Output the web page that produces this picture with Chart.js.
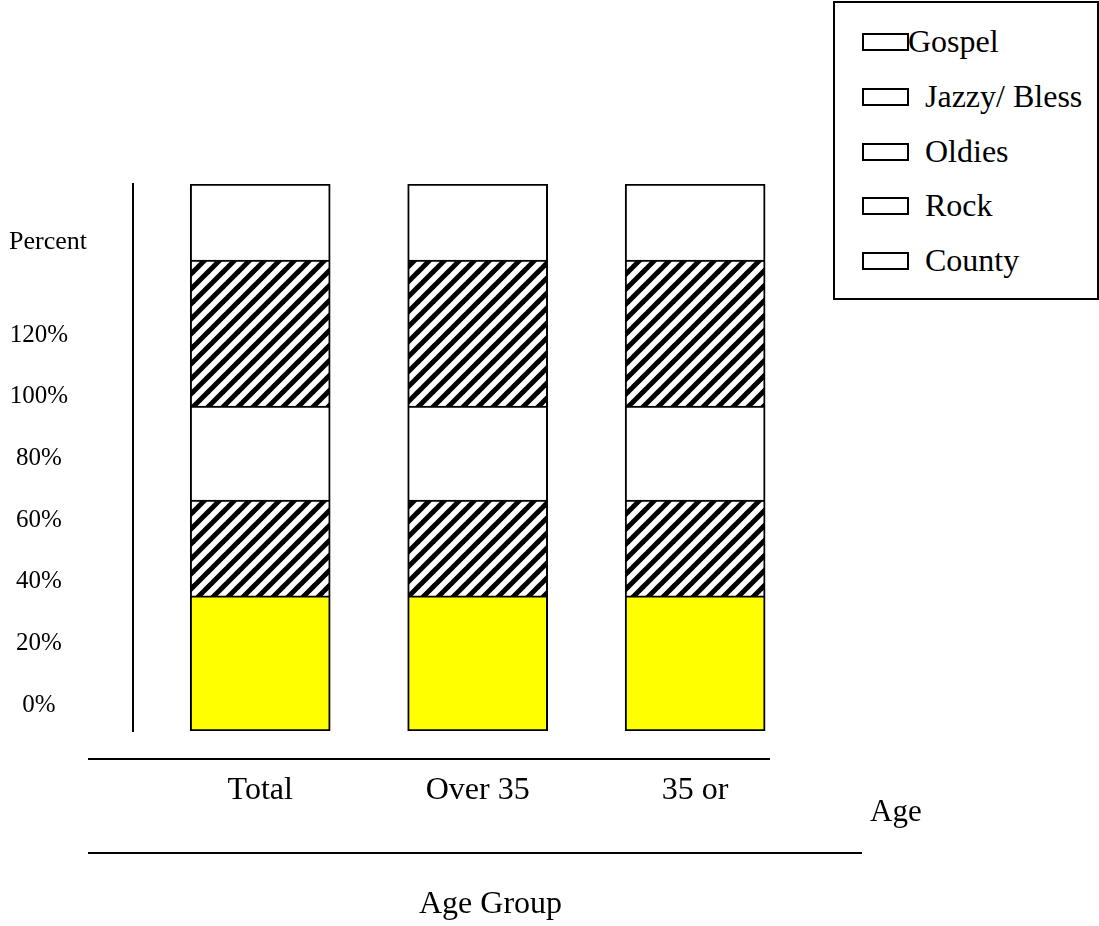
<!DOCTYPE html>
<html>
<head>
<meta charset="utf-8">
<script src="https://cdn.jsdelivr.net/npm/chart.js@4/dist/chart.umd.min.js"></script>
<style>
  html, body { margin: 0; padding: 0; background: #fff; }
  #wrap { position: relative; width: 1099px; height: 926px; }
  #chart { position: absolute; left: 0; top: 0; }
  #legend {
    position: absolute; left: 833px; top: 1px; width: 262px; height: 295px;
    border: 2px solid #000; background: #fff;
    font-family: "Liberation Serif", "Times New Roman", serif; font-size: 32px; color: #000;
  }
  .lg-box { position: absolute; width: 43px; height: 14px; border: 2px solid #000; background: #fff; }
  .lg-text { position: absolute; line-height: 34px; white-space: nowrap; }
</style>
</head>
<body>
<div id="wrap">
  <canvas id="chart" width="1099" height="926"></canvas>
  <div id="legend"></div>
</div>
<script>
// categories and series (stack segments, percent of bar height)
const AGE_GROUPS = ['Total', 'Over 35', '35 or'];
const BAR_SLOTS = [0, 1, 2];
const GENRES = ['Gospel', 'Jazzy/ Bless', 'Oldies', 'Rock', 'County'];

const GOSPEL = [13.9, 13.9, 13.9];
const JAZZY_BLESS = [26.7, 26.7, 26.7];
const OLDIES = [17.2, 17.2, 17.2];
const ROCK = [17.5, 17.5, 17.5];
const COUNTY = [24.7, 24.7, 24.7];

const PERCENT_TICKS = [0, 20, 40, 60, 80, 100, 120];

const SERIF = '"Liberation Serif", "Times New Roman", serif';

function makeHatch() {
    const size = 15;
    const c = document.createElement('canvas');
    c.width = size; c.height = size;
    const g = c.getContext('2d');
    g.fillStyle = '#fff';
    g.fillRect(0, 0, size, size);
    g.strokeStyle = '#000';
    g.lineWidth = 5;
    // run the strokes past the tile so the stripes join up
    [-size, 0, size].forEach(o => {
        g.beginPath();
        g.moveTo(o - 6, size + 6);
        g.lineTo(o + size + 6, -6);
        g.stroke();
    });
    return g.createPattern(c, 'repeat');
}

const hatch = makeHatch();

function points(values) {
    return BAR_SLOTS.map((x, i) => ({ x: x, y: values[i] }));
}

function barSet(label, values, fill, skip) {
    return {
        label: label,
        data: points(values),
        backgroundColor: fill,
        borderColor: '#000',
        borderWidth: 2,
        borderSkipped: skip,
        barThickness: 140,
        yAxisID: 'y'
    };
}

// extra text and the two rules under the plot
const decorations = {
    id: 'decorations',
    afterDraw(chart) {
        const ctx = chart.ctx;
        ctx.save();
        ctx.fillStyle = '#000';
        ctx.textBaseline = 'middle';
        ctx.textAlign = 'left';
        ctx.font = '26px ' + SERIF;
        ctx.fillText('Percent', 9, 242);
        ctx.font = '31px ' + SERIF;
        ctx.fillText('Age', 870, 813);

        ctx.strokeStyle = '#000';
        ctx.lineWidth = 2;
        ctx.beginPath();
        ctx.moveTo(88, 759); ctx.lineTo(770, 759);
        ctx.moveTo(88, 853); ctx.lineTo(862, 853);
        ctx.stroke();
        ctx.restore();
    }
};

const chart = new Chart(document.getElementById('chart'), {
    type: 'bar',
    data: {
        datasets: [
            barSet('County', COUNTY, '#ffff00', false),
            barSet('Rock', ROCK, hatch, 'start'),
            barSet('Oldies', OLDIES, '#ffffff', 'start'),
            barSet('Jazzy/ Bless', JAZZY_BLESS, hatch, 'start'),
            barSet('Gospel', GOSPEL, '#ffffff', 'start')
        ]
    },
    options: {
        responsive: false,
        animation: false,
        layout: { padding: { top: 184, right: 251, bottom: 2, left: 0 } },
        plugins: {
            legend: { display: false },
            tooltip: { enabled: false }
        },
        scales: {
            x: {
                type: 'linear',
                stacked: true,
                offset: false,
                min: -0.585,
                max: 2.703,
                grid: { display: false, drawTicks: false },
                border: { display: false },
                afterBuildTicks: s => { s.ticks = BAR_SLOTS.map(v => ({ value: v })); },
                afterFit: s => { s.height = 193; },
                ticks: {
                    autoSkip: false,
                    maxRotation: 0,
                    padding: 40,
                    color: '#000',
                    font: { family: SERIF, size: 32 },
                    callback: (v, i) => AGE_GROUPS[i]
                },
                title: {
                    display: true,
                    text: 'Age Group',
                    color: '#000',
                    padding: 0,
                    font: { family: SERIF, size: 32 }
                }
            },
            y: {
                stacked: true,
                display: false,
                min: 0,
                max: 100
            },
            yPct: {
                type: 'linear',
                position: 'left',
                min: -8.43,
                max: 168.97,
                grid: { display: false, drawTicks: false },
                border: { display: true, color: '#000', width: 2 },
                afterBuildTicks: s => { s.ticks = PERCENT_TICKS.map(v => ({ value: v })); },
                afterFit: s => { s.width = 133; },
                ticks: {
                    padding: 65,
                    crossAlign: 'center',
                    color: '#000',
                    font: { family: SERIF, size: 25 },
                    callback: v => v + '%'
                }
            }
        }
    },
    plugins: [decorations]
});

// legend box, listed top to bottom like the stack
const legendEl = document.getElementById('legend');
GENRES.forEach((name, i) => {
    const cy = 38 + 54.8 * i;
    const box = document.createElement('div');
    box.className = 'lg-box';
    box.style.left = '27px';
    box.style.top = (cy - 8) + 'px';
    legendEl.appendChild(box);

    const txt = document.createElement('div');
    txt.className = 'lg-text';
    txt.style.left = (i === 0 ? 73 : 90) + 'px';
    txt.style.top = (cy - 17) + 'px';
    txt.textContent = name;
    legendEl.appendChild(txt);
});
</script>
</body>
</html>
